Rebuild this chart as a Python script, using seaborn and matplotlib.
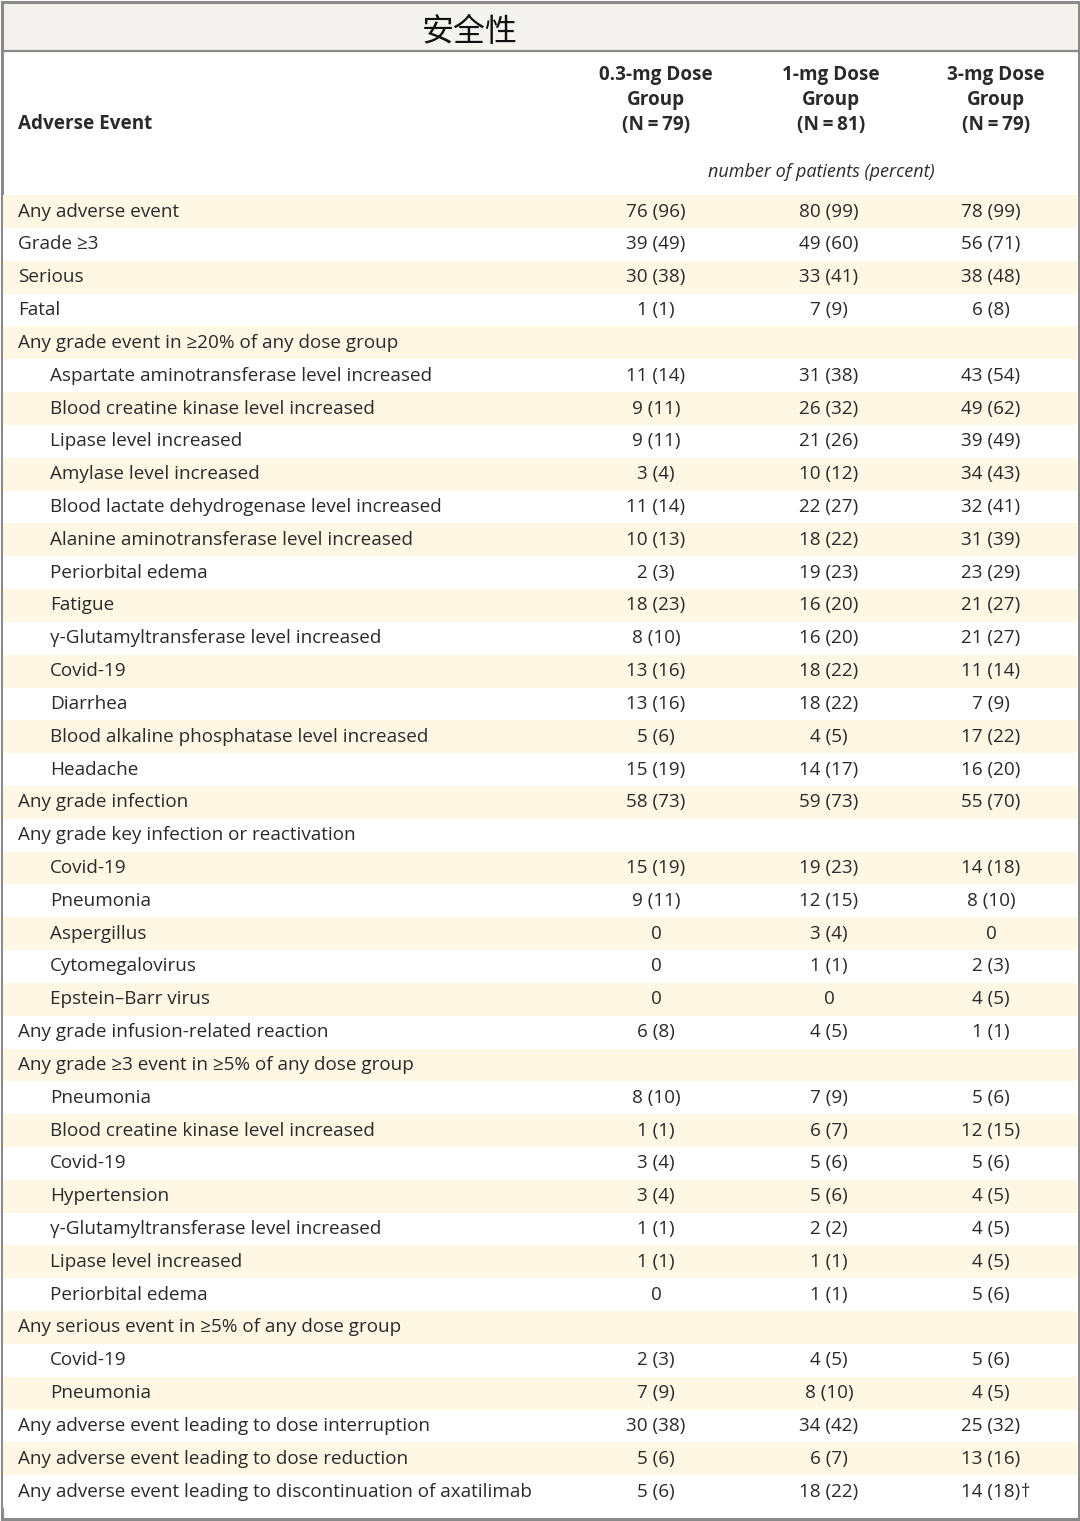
import numpy as np
import pandas as pd
import seaborn as sns
import matplotlib.pyplot as plt
from matplotlib.colors import ListedColormap
from matplotlib.patches import Rectangle

sns.set_theme(style="white")
plt.rcParams['font.family'] = ['Open Sans', 'DejaVu Sans', 'Noto Sans CJK SC']

# table content
title = "安全性"
group_headers = ["0.3-mg Dose\nGroup\n(N\u2009=\u200979)", "1-mg Dose\nGroup\n(N\u2009=\u200981)",
                 "3-mg Dose\nGroup\n(N\u2009=\u200979)"]

events = [
    "Any adverse event", "Grade ≥3", "Serious", "Fatal",
    "Any grade event in ≥20% of any dose group",
    "Aspartate aminotransferase level increased",
    "Blood creatine kinase level increased",
    "Lipase level increased",
    "Amylase level increased",
    "Blood lactate dehydrogenase level increased",
    "Alanine aminotransferase level increased",
    "Periorbital edema",
    "Fatigue",
    "γ-Glutamyltransferase level increased",
    "Covid-19",
    "Diarrhea",
    "Blood alkaline phosphatase level increased",
    "Headache",
    "Any grade infection",
    "Any grade key infection or reactivation",
    "Covid-19", "Pneumonia", "Aspergillus", "Cytomegalovirus", "Epstein–Barr virus",
    "Any grade infusion-related reaction",
    "Any grade ≥3 event in ≥5% of any dose group",
    "Pneumonia", "Blood creatine kinase level increased", "Covid-19", "Hypertension",
    "γ-Glutamyltransferase level increased", "Lipase level increased", "Periorbital edema",
    "Any serious event in ≥5% of any dose group",
    "Covid-19", "Pneumonia",
    "Any adverse event leading to dose interruption",
    "Any adverse event leading to dose reduction",
    "Any adverse event leading to discontinuation of axatilimab",
]
indented = [0, 0, 0, 0, 0,
            1, 1, 1, 1, 1, 1, 1, 1, 1, 1, 1, 1, 1,
            0, 0,
            1, 1, 1, 1, 1,
            0, 0,
            1, 1, 1, 1, 1, 1, 1,
            0,
            1, 1,
            0, 0, 0]

dose_03 = ["76 (96)", "39 (49)", "30 (38)", "1 (1)", "",
           "11 (14)", "9 (11)", "9 (11)", "3 (4)", "11 (14)", "10 (13)", "2 (3)", "18 (23)",
           "8 (10)", "13 (16)", "13 (16)", "5 (6)", "15 (19)",
           "58 (73)", "",
           "15 (19)", "9 (11)", "0", "0", "0",
           "6 (8)", "",
           "8 (10)", "1 (1)", "3 (4)", "3 (4)", "1 (1)", "1 (1)", "0",
           "",
           "2 (3)", "7 (9)",
           "30 (38)", "5 (6)", "5 (6)"]
dose_1 = ["80 (99)", "49 (60)", "33 (41)", "7 (9)", "",
          "31 (38)", "26 (32)", "21 (26)", "10 (12)", "22 (27)", "18 (22)", "19 (23)", "16 (20)",
          "16 (20)", "18 (22)", "18 (22)", "4 (5)", "14 (17)",
          "59 (73)", "",
          "19 (23)", "12 (15)", "3 (4)", "1 (1)", "0",
          "4 (5)", "",
          "7 (9)", "6 (7)", "5 (6)", "5 (6)", "2 (2)", "1 (1)", "1 (1)",
          "",
          "4 (5)", "8 (10)",
          "34 (42)", "6 (7)", "18 (22)"]
dose_3 = ["78 (99)", "56 (71)", "38 (48)", "6 (8)", "",
          "43 (54)", "49 (62)", "39 (49)", "34 (43)", "32 (41)", "31 (39)", "23 (29)", "21 (27)",
          "21 (27)", "11 (14)", "7 (9)", "17 (22)", "16 (20)",
          "55 (70)", "",
          "14 (18)", "8 (10)", "0", "2 (3)", "4 (5)",
          "1 (1)", "",
          "5 (6)", "12 (15)", "5 (6)", "4 (5)", "4 (5)", "4 (5)", "5 (6)",
          "",
          "5 (6)", "4 (5)",
          "25 (32)", "13 (16)", "14 (18)†"]

df = pd.DataFrame({"event": events, "indent": indented,
                   "d03": dose_03, "d1": dose_1, "d3": dose_3})

W, H = 1080, 1521
text_color = "#2a2a2a"
stripe = "#fdf7e4"
fs = 13.6

fig = plt.figure(figsize=(W / 100, H / 100), dpi=100)
fig.patch.set_facecolor("white")

# background axes in pixel units (frame, title bar, header)
ax = fig.add_axes([0, 0, 1, 1])
ax.set_xlim(0, W)
ax.set_ylim(H, 0)
ax.axis("off")
ax.add_patch(Rectangle((2, 2), W - 4, 49, facecolor="#f4f3f0", edgecolor="none"))
ax.plot([2, W - 2], [51, 51], color="#8a8a8a", lw=1.6)
ax.add_patch(Rectangle((1.5, 1.5), W - 3, H - 4, facecolor="none", edgecolor="#8a8a8a", lw=2.2))
ax.text(470, 32, title, fontsize=23, ha="center", va="center", color="#111111",
        family=["Noto Sans CJK SC", "DejaVu Sans"])

ax.text(18, 124, "Adverse Event", fontsize=fs, fontweight="bold", ha="left", va="center", color=text_color)
for x, h in zip([656, 831, 996], group_headers):
    ax.text(x, 100, h, fontsize=fs, fontweight="bold", ha="center", va="center",
            color=text_color, linespacing=1.35)
ax.text(821, 172, "number of patients (percent)", fontsize=fs - 0.6, style="italic",
        ha="center", va="center", color=text_color)

# body rows: striped background through a one-column heatmap
top, bottom = 195.2, 1508.0
hax = fig.add_axes([3 / W, 1 - bottom / H, (W - 6) / W, (bottom - top) / H])
hax.set_zorder(1)
stripes = pd.DataFrame({"s": [(i + 1) % 2 for i in range(len(df))]})
sns.heatmap(stripes, ax=hax, cmap=ListedColormap(["white", stripe]), vmin=0, vmax=1,
            cbar=False, xticklabels=False, yticklabels=False)


def px(x):
    return (x - 3) / (W - 6)


for i, row in df.iterrows():
    y = i + 0.5
    hax.text(px(50 if row["indent"] else 18), y, row["event"], fontsize=fs,
             ha="left", va="center", color=text_color)
    for x, col in zip([656, 829, 991], ["d03", "d1", "d3"]):
        val = row[col]
        if not val:
            continue
        mark = ""
        if val.endswith("†"):
            val, mark = val[:-1], "†"
        t = hax.text(px(x), y, val, fontsize=fs, ha="center", va="center", color=text_color)
        if mark:
            hax.annotate(mark, xy=(1, 0.5), xycoords=t, ha="left", va="center",
                         fontsize=fs, color=text_color)

fig.savefig("out.png", dpi=100, facecolor="white")
